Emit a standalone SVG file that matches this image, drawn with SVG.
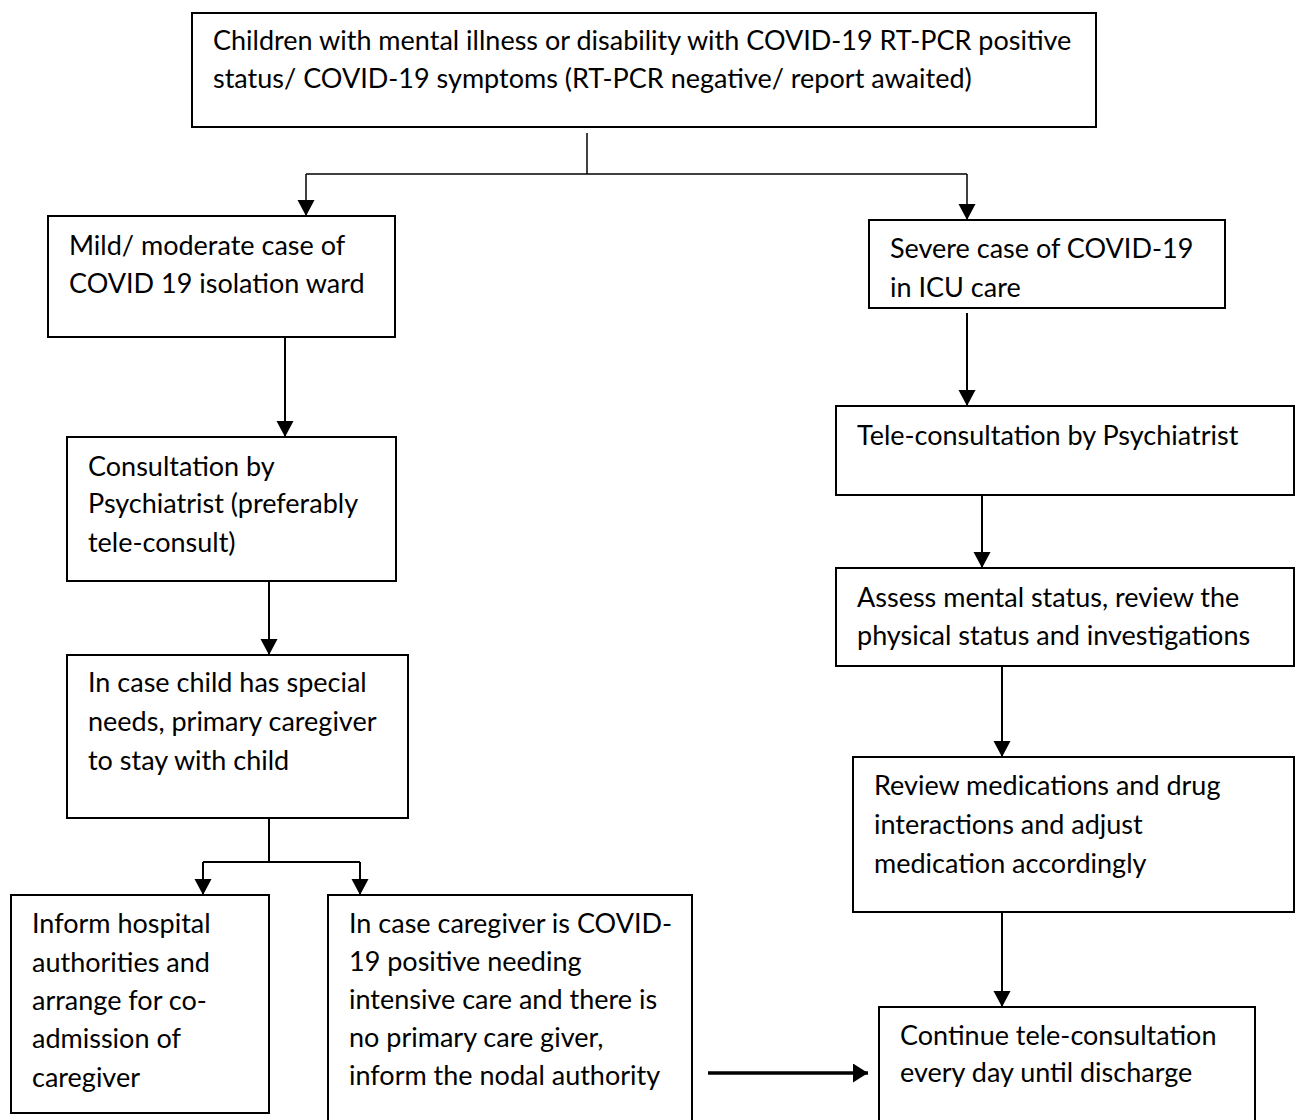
<svg xmlns="http://www.w3.org/2000/svg" width="1295" height="1120" viewBox="0 0 1295 1120">
<style>
.box{fill:#fff;stroke:#000;stroke-width:2}
.t{font-family:Lato,"Open Sans","Liberation Sans",sans-serif;font-size:27px;fill:#000}
.c{fill:none;stroke:#000;stroke-width:2}
.thin{fill:none;stroke:#000;stroke-width:1.5}
</style>
<defs>
<marker id="ah" markerUnits="userSpaceOnUse" markerWidth="18" markerHeight="18" refX="16" refY="8.5" orient="auto">
<path d="M0,0 L16,8.5 L0,17 z" fill="#000"/>
</marker>
<marker id="ah2" markerUnits="userSpaceOnUse" markerWidth="16" markerHeight="20" refX="15" refY="9.5" orient="auto">
<path d="M0,0 L15,9.5 L0,19 z" fill="#000"/>
</marker>
</defs>
<g id="connectors">
<line class="thin" x1="587" y1="133" x2="587" y2="174"/>
<polyline class="thin" points="306,174 967,174"/>
<line class="thin" x1="306" y1="174" x2="306" y2="216" marker-end="url(#ah)"/>
<line class="thin" x1="967" y1="174" x2="967" y2="220" marker-end="url(#ah)"/>
<line class="c" x1="285" y1="337" x2="285" y2="437" marker-end="url(#ah)"/>
<line class="c" x1="967" y1="313" x2="967" y2="406" marker-end="url(#ah)"/>
<line class="c" x1="269" y1="581" x2="269" y2="655" marker-end="url(#ah)"/>
<line class="c" x1="982" y1="495" x2="982" y2="568" marker-end="url(#ah)"/>
<line class="c" x1="269" y1="818" x2="269" y2="862"/>
<polyline class="c" points="203,862 360,862"/>
<line class="c" x1="203" y1="862" x2="203" y2="895" marker-end="url(#ah)"/>
<line class="c" x1="360" y1="862" x2="360" y2="895" marker-end="url(#ah)"/>
<line class="c" x1="1002" y1="666" x2="1002" y2="757" marker-end="url(#ah)"/>
<line class="c" x1="1002" y1="900" x2="1002" y2="1007" marker-end="url(#ah)"/>
<line fill="none" stroke="#000" stroke-width="3.5" x1="708" y1="1073" x2="868" y2="1073" marker-end="url(#ah2)"/>
</g>
<g id="n-top">
<rect class="box" x="192" y="13" width="904" height="114"/>
<text class="t" x="213" y="50">Children with mental illness or disability with COVID-19 RT-PCR positive</text>
<text class="t" x="213" y="88">status/ COVID-19 symptoms (RT-PCR negative/ report awaited)</text>
</g>
<g id="n-mild">
<rect class="box" x="48" y="216" width="347" height="121"/>
<text class="t" x="69" y="255">Mild/ moderate case of</text>
<text class="t" x="69" y="293">COVID 19 isolation ward</text>
</g>
<g id="n-severe">
<rect class="box" x="869" y="220" width="356" height="88"/>
<text class="t" x="890" y="258">Severe case of COVID-19</text>
<text class="t" x="890" y="297">in ICU care</text>
</g>
<g id="n-consult">
<rect class="box" x="67" y="437" width="329" height="144"/>
<text class="t" x="88" y="476">Consultation by</text>
<text class="t" x="88" y="513">Psychiatrist (preferably</text>
<text class="t" x="88" y="552">tele-consult)</text>
</g>
<g id="n-tele">
<rect class="box" x="836" y="406" width="458" height="89"/>
<text class="t" x="857" y="445">Tele-consultation by Psychiatrist</text>
</g>
<g id="n-assess">
<rect class="box" x="836" y="568" width="458" height="98"/>
<text class="t" x="857" y="607">Assess mental status, review the</text>
<text class="t" x="857" y="645">physical status and investigations</text>
</g>
<g id="n-special">
<rect class="box" x="67" y="655" width="341" height="163"/>
<text class="t" x="88" y="692">In case child has special</text>
<text class="t" x="88" y="731">needs, primary caregiver</text>
<text class="t" x="88" y="770">to stay with child</text>
</g>
<g id="n-review">
<rect class="box" x="853" y="757" width="441" height="155"/>
<text class="t" x="874" y="795">Review medications and drug</text>
<text class="t" x="874" y="834">interactions and adjust</text>
<text class="t" x="874" y="873">medication accordingly</text>
</g>
<g id="n-inform">
<rect class="box" x="11" y="895" width="258" height="218"/>
<text class="t" x="32" y="933">Inform hospital</text>
<text class="t" x="32" y="972">authorities and</text>
<text class="t" x="32" y="1010">arrange for co-</text>
<text class="t" x="32" y="1048">admission of</text>
<text class="t" x="32" y="1087">caregiver</text>
</g>
<g id="n-caregiver">
<rect class="box" x="328" y="895" width="364" height="235"/>
<text class="t" x="349" y="933">In case caregiver is COVID-</text>
<text class="t" x="349" y="971">19 positive needing</text>
<text class="t" x="349" y="1009">intensive care and there is</text>
<text class="t" x="349" y="1047">no primary care giver,</text>
<text class="t" x="349" y="1085">inform the nodal authority</text>
</g>
<g id="n-continue">
<rect class="box" x="879" y="1007" width="376" height="123"/>
<text class="t" x="900" y="1045">Continue tele-consultation</text>
<text class="t" x="900" y="1082">every day until discharge</text>
</g>
</svg>
